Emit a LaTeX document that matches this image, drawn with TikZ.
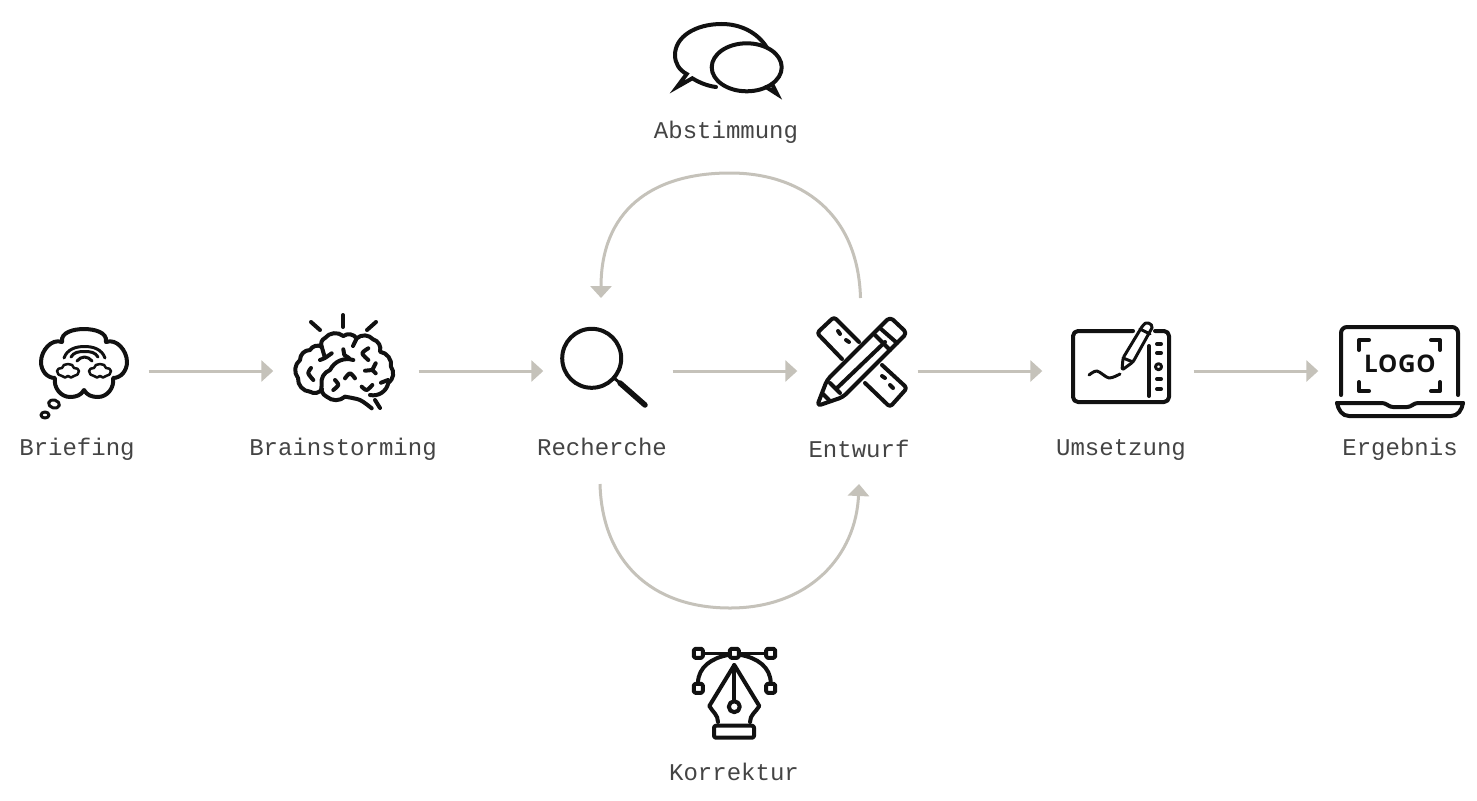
\documentclass[tikz,border=0pt]{standalone}
\usepackage{fontspec}
\setmonofont{Liberation Mono}
\newfontfamily\logofont[LetterSpace=3]{Open Sans}
\usetikzlibrary{arrows.meta}
\definecolor{flowgrey}{HTML}{C5C2BA}
\definecolor{icongrey}{HTML}{111111}
\definecolor{labelgrey}{HTML}{444444}
\tikzset{
    icon/.style={draw=icongrey, line width=0.04cm, line cap=round, line join=round},
    thin icon/.style={icon, line width=0.03cm},
    lump/.style={bend left=45},
    inner lump/.style={bend right=40},
    label text/.style={text=labelgrey, font=\ttfamily\fontsize{6.83}{8}\selectfont, inner sep=0pt, anchor=base},
    icon box/.style 2 args={minimum width=#1*0.01cm, minimum height=#2*0.01cm, inner sep=0pt},
    flow/.style={draw=flowgrey, line width=0.03cm, -{Triangle[length=0.12cm,width=0.21cm,fill=flowgrey]}},
    loop arc/.style={draw=flowgrey, line width=0.03cm, -{Triangle[length=0.12cm,width=0.21cm,fill=flowgrey]}}
}
\begin{document}
\begin{tikzpicture}[x=0.01cm,y=-0.01cm]
    \useasboundingbox (0,0) rectangle (1477,800);
    % step positions
    \node [icon box={128}{146}] (briefing) at (84,371) {};
    \node [icon box={144}{146}] (brainstorming) at (346,371) {};
    \node [icon box={128}{146}] (recherche) at (608,371) {};
    \node [icon box={119}{146}] (entwurf) at (857.5,371) {};
    \node [icon box={150}{146}] (umsetzung) at (1118,371) {};
    \node [icon box={162}{146}] (ergebnis) at (1400,371) {};
    % labels
    \node [label text] (briefingLabel) at (77,455) {Briefing};
    \node [label text] (brainstormingLabel) at (343,455.5) {Brainstorming};
    \node [label text] (rechercheLabel) at (602,455.5) {Recherche};
    \node [label text] (entwurfLabel) at (859,457) {Entwurf};
    \node [label text] (umsetzungLabel) at (1121,455.5) {Umsetzung};
    \node [label text] (ergebnisLabel) at (1400,455.5) {Ergebnis};
    \node [label text] (abstimmungLabel) at (726,138.5) {Abstimmung};
    \node [label text] (korrekturLabel) at (734,780) {Korrektur};
    % flow arrows
    \draw [flow] (briefing) -- (brainstorming);
    \draw [flow] (brainstorming) -- (recherche);
    \draw [flow] (recherche) -- (entwurf);
    \draw [flow] (entwurf) -- (umsetzung);
    \draw [flow] (umsetzung) -- (ergebnis);
    % loops
    \coordinate (abstStart) at (860.5,298);
    \coordinate (abstEnd) at (601,298);
    \coordinate (korrStart) at (600,484);
    \coordinate (korrEnd) at (859,484);
    \draw [loop arc] (abstStart) .. controls (858,212) and (800,173) .. (730,173) .. controls (650,173) and (601,212) .. (abstEnd);
    \draw [loop arc] (korrStart) .. controls (602,560) and (650,608) .. (730,608) .. controls (810,608) and (856,555) .. (korrEnd);
    % briefing icon
    \draw [icon] (62,342) to[out=100,in=180] (84,329) to[out=0,in=80] (106,342)
        to[out=20,in=90] (127,362) to[out=-90,in=0] (113,378)
        to[out=-80,in=0] (98,397) to[out=180,in=-60] (84,390)
        to[out=-120,in=0] (70,397) to[out=180,in=-100] (55,378)
        to[out=180,in=-90] (41,362) to[out=90,in=160] (62,342);
    \draw [thin icon, rotate around={-15:(54,404)}] (54,404) ellipse (5.5 and 4);
    \draw [thin icon] (45,415) ellipse (4 and 3);
    \draw [thin icon] (64,358) to[out=70,in=180] (84.5,346.5) to[out=0,in=110] (105,358);
    \draw [thin icon] (71,357) to[out=60,in=180] (84.5,351.5) to[out=0,in=120] (98,357);
    \draw [thin icon] (77,361) to[out=45,in=180] (84.5,357) to[out=0,in=135] (92,361);
    \foreach \cx in {68,100} {
        \draw [thin icon, line width=0.025cm, xshift=\cx*0.01cm, yshift=-371*0.01cm]
            (-6,5) to[out=180,in=-90] (-11,0) to[out=90,in=180] (-6,-3)
            to[out=90,in=180] (0,-7) to[out=0,in=90] (6,-3)
            to[out=0,in=90] (11,0) to[out=-90,in=0] (6,5)
            to[out=-120,in=-60] (0,5) to[out=-120,in=-60] (-6,5);
    }
    % brainstorming icon
    \draw [icon] (311,322) -- (320,330);
    \draw [icon] (343,315) -- (343,327);
    \draw [icon] (376,322) -- (367,330);
    \draw [icon] (322,389) to[lump] (310,391.7) to[lump] (298,378) to[lump] (300,360)
        to[lump] (310,350) to[lump] (321.7,346.7) to[lump] (325,338) to[lump] (343.3,336)
        to[lump] (356.7,338.3) to[lump] (373,339.3) to[lump] (380,351.7) to[lump] (391,366.7)
        to[lump] (388.3,383) to[lump] (370,395);
    \draw [icon] (353.3,360) to[inner lump] (330,370) to[inner lump] (321.7,385) to[inner lump] (326.7,396.7) to[inner lump] (345,396.7);
    \draw [icon] plot [smooth] coordinates {(345,396.7) (360,400) (371.7,408.3)};
    \draw [icon] (375,400) -- (380,408);
    \draw [icon] (343.3,349.3) -- (344.3,355) -- (349,358);
    \draw [icon] (356.7,338.3) -- (353,346);
    \draw [icon] (321.7,346.7) -- (325,358) -- (331.7,353.3) (325,358) -- (320,360);
    \draw [icon] plot [smooth] coordinates {(311,368) (308.3,373.3) (313.3,380)};
    \draw [icon] plot [smooth] coordinates {(368.3,348.3) (362.3,353.3) (368.3,360)};
    \draw [icon] (375.7,363.3) -- (372.3,370) -- (365,370.7) (372.3,370) -- (375.7,373.3);
    \draw [icon] plot [smooth] coordinates {(345,378.3) (350,373.3) (355,378.3)};
    \draw [icon] plot [smooth] coordinates {(361.7,386.7) (366.7,390) (372.3,385)};
    \draw [icon] plot [smooth] coordinates {(335,380) (338.3,385) (333.3,390)};
    \draw [icon] (381,382.7) -- (388,380);
    % recherche icon
    \draw [icon] (591.7,358.3) circle (29.5);
    \draw [thin icon] (614,378) -- (620,383);
    \draw [icon, line width=0.055cm] (620,383) -- (645,405);
    % entwurf icon
    \draw [icon, rounded corners=0.03cm] (859,342) -- (834,317) -- (817,333) -- (842,359);
    \draw [icon, rounded corners=0.03cm] (882,365) -- (907,388) -- (890,407) -- (865,383);
    \draw [icon] (838,331) -- (840,334);
    \draw [icon] (846,340) -- (849,342);
    \draw [icon] (882,376) -- (885,378);
    \draw [icon] (890,385) -- (893,388);
    \draw [icon, rounded corners=0.04cm] (827,380) -- (890,317) -- (907,333) -- (843,397) -- (817,406) -- cycle;
    \draw [icon] (830,383) -- (840,393);
    \draw [icon] (837,388) -- (885,342);
    \draw [icon] (875,335) -- (890,350);
    \draw [icon] (881,329) -- (897,343);
    \draw [icon] (823,394) -- (829,400);
    % umsetzung icon
    \draw [icon, rounded corners=0.05cm] (1133,331) -- (1073,331) -- (1073,402) -- (1169,402) -- (1169,331) -- (1155,331);
    \draw [icon] (1149,346) -- (1149,396);
    \foreach \dy in {344,353,379,389} {
        \draw [icon] (1157,\dy) -- (1161,\dy);
    }
    \draw [thin icon] (1158.5,366.7) circle (3);
    \draw [thin icon] plot [smooth] coordinates {(1089,375) (1097,371) (1109,378) (1120,374)};
    \draw [thin icon, rounded corners=0.02cm] (1122,370) -- (1123,358) -- (1143,325) -- (1147,322) -- (1153,326) -- (1133,362) -- cycle;
    \draw [thin icon] (1123,358) -- (1133,362);
    \draw [thin icon] (1140,329) -- (1150,334);
    % ergebnis icon
    \draw [icon, rounded corners=0.06cm] (1341,395) -- (1341,327) -- (1458,327) -- (1458,395);
    \draw [icon, rounded corners=0.03cm] (1337,403) -- (1385,403) -- (1390,407) -- (1410,407) -- (1415,403) -- (1463,403);
    \draw [icon] (1337,403) to[out=-80,in=180] (1349,416) -- (1451,416) to[out=0,in=-100] (1463,403);
    \draw [icon] (1359,350) -- (1359,340) -- (1369,340);
    \draw [icon] (1431,340) -- (1440,340) -- (1440,350);
    \draw [icon] (1359,382) -- (1359,391) -- (1369,391);
    \draw [icon] (1431,391) -- (1440,391) -- (1440,382);
    \node [text=icongrey, inner sep=0pt, font=\logofont\bfseries\fontsize{6.9}{8}\selectfont] (logo) at (1400,364) {LOGO};
    % abstimmung icon
    \draw [icon, line join=miter, miter limit=10] (766.7,47.3) .. controls (757,32) and (740,24) .. (721.7,24)
        .. controls (695,24) and (675,37) .. (675,55) .. controls (675,63) and (679,70) .. (686.7,74)
        -- (677,87) -- (692.3,78.3) .. controls (700,83) and (708,86) .. (716,87);
    \draw [icon] (746.7,67.3) ellipse (35 and 24);
    \draw [icon, line join=miter, miter limit=10] (766,87) -- (777,94) -- (772,84);
    % korrektur icon
    \foreach \sx/\sy in {698.3/653.3,734.3/653.3,770.7/653.3,698.3/688.3,770.7/688.3} {
        \draw [icon, rounded corners=0.015cm] (\sx-4.5,\sy-4.5) rectangle (\sx+4.5,\sy+4.5);
    }
    \draw [thin icon] (703,653.3) -- (730,653.3);
    \draw [thin icon] (739,653.3) -- (766,653.3);
    \draw [icon] (698,683) to[out=90,in=190] (728,655);
    \draw [icon] (770.7,683) to[out=90,in=-10] (741,655);
    \draw [icon] (718,722) to[out=90,in=-60] (709.3,706) -- (734.3,665) -- (759.3,706) to[out=-120,in=90] (750,722);
    \draw [icon] (734.3,665) -- (734.3,701);
    \draw [icon] (734.3,706.7) circle (5.5);
    \draw [icon, rounded corners=0.02cm] (714,725.7) rectangle (754,737.7);
\end{tikzpicture}
\end{document}
